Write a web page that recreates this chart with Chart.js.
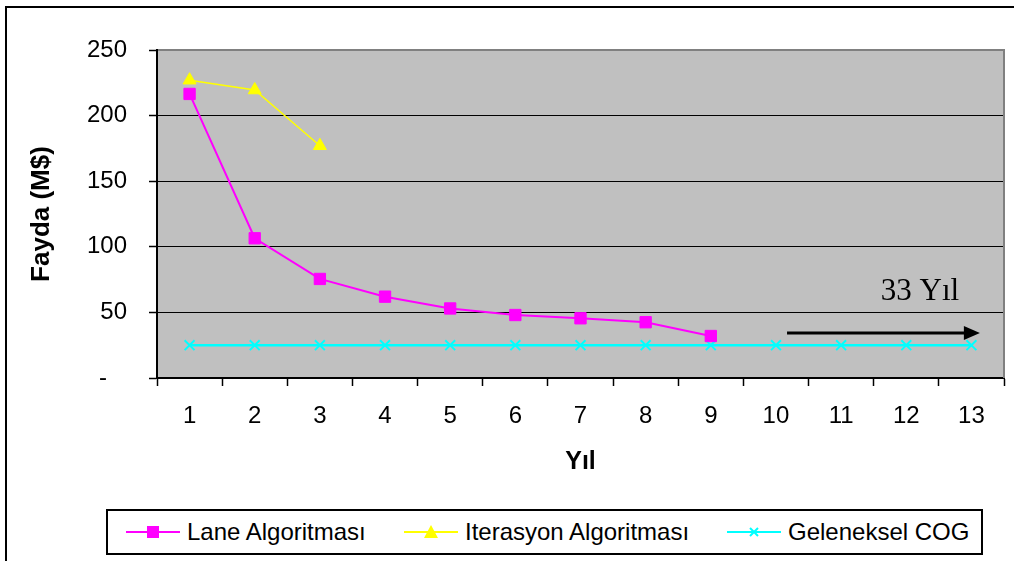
<!DOCTYPE html>
<html>
<head>
<meta charset="utf-8">
<script src="https://cdn.jsdelivr.net/npm/chart.js@4.4.1/dist/chart.umd.min.js"></script>
<style>
  html, body { margin: 0; padding: 0; background: #fff; }
  #wrap { position: relative; width: 1014px; height: 561px; overflow: hidden; background: #fff; }
  #frame { position: absolute; left: 5px; top: 6px; width: 1100px; height: 700px;
           border-left: 2px solid #000; border-top: 2px solid #000; box-sizing: border-box; pointer-events: none; }
  #c { position: absolute; left: 0; top: 0; }
  #legend { position: absolute; left: 106px; top: 509px; width: 877px; height: 46px;
            border: 2px solid #000; box-sizing: border-box; background: #fff; }
  .item { position: absolute; top: 0; height: 42px; display: flex; align-items: center;
          font-family: "Liberation Sans", Arial, sans-serif; font-size: 24px; color: #000; white-space: nowrap; }
  .item svg { margin-right: 7px; }
</style>
</head>
<body>
<div id="wrap">
  <canvas id="c" width="1014" height="561"></canvas>
  <div id="frame"></div>
  <div id="legend"></div>
</div>
<script>
// ---- data ----
const categories = ['1','2','3','4','5','6','7','8','9','10','11','12','13'];
const seriesNames = ['Lane Algoritması', 'Iterasyon Algoritması', 'Geleneksel COG'];
const laneValues = [216.5, 106.5, 75.5, 62, 53, 48, 45.5, 42.5, 32, null, null, null, null];
const iterValues = [227, 219.5, 177, null, null, null, null, null, null, null, null, null, null];
const cogValues  = [25, 25, 25, 25, 25, 25, 25, 25, 25, 25, 25, 25, 25];
const yTicks = [0, 50, 100, 150, 200, 250];
const annotationText = '33 Yıl';

// ---- styling ----
const colors = ['#FF00FF', '#FFFF00', '#00FFFF'];
const pointStyles = ['rect', 'triangle', 'crossRot'];

// annotation placement in data units (category index, value)
const arrowFrom = { x: 9.17, y: 34.3 };
const arrowTo   = { x: 12.13, y: 34.3 };
const textAt    = { x: 11.21, y: 59.5 };

const plotDeco = {
  id: 'plotDeco',
  beforeDraw(chart) {
    const { ctx, chartArea: a } = chart;
    ctx.save();
    ctx.fillStyle = '#C0C0C0';
    ctx.fillRect(a.left, a.top, a.right - a.left, a.bottom - a.top);
    ctx.restore();
  },
  beforeDatasetsDraw(chart) {
    const { ctx, chartArea: a } = chart;
    ctx.save();
    ctx.strokeStyle = '#808080';
    ctx.lineWidth = 2;
    ctx.beginPath();
    ctx.moveTo(a.left + 1, a.top);
    ctx.lineTo(a.right, a.top);
    ctx.lineTo(a.right, a.bottom);
    ctx.stroke();
    ctx.restore();
  },
  afterDatasetsDraw(chart) {
    const { ctx } = chart;
    const xs = chart.scales.x, ys = chart.scales.y;
    const x1 = xs.getPixelForValue(arrowFrom.x), y1 = ys.getPixelForValue(arrowFrom.y);
    const x2 = xs.getPixelForValue(arrowTo.x), y2 = ys.getPixelForValue(arrowTo.y);
    ctx.save();
    ctx.strokeStyle = '#000';
    ctx.fillStyle = '#000';
    ctx.lineWidth = 3;
    ctx.beginPath();
    ctx.moveTo(x1, y1);
    ctx.lineTo(x2 - 14, y2);
    ctx.stroke();
    ctx.beginPath();
    ctx.moveTo(x2, y2);
    ctx.lineTo(x2 - 16, y2 - 7);
    ctx.lineTo(x2 - 16, y2 + 7);
    ctx.closePath();
    ctx.fill();
    ctx.font = '31px "Liberation Serif", "Times New Roman", serif';
    ctx.textAlign = 'center';
    ctx.textBaseline = 'alphabetic';
    ctx.fillText(annotationText, xs.getPixelForValue(textAt.x), ys.getPixelForValue(textAt.y));
    ctx.restore();
  }
};

const values = [laneValues, iterValues, cogValues];
const lineWidths = [2, 1.5, 2.5];
const radii = [8, 7.5, 7];

const chart = new Chart(document.getElementById('c'), {
  type: 'line',
  data: {
    labels: categories,
    datasets: values.map((v, i) => ({
      label: seriesNames[i],
      data: v,
      borderColor: colors[i],
      backgroundColor: colors[i],
      pointBackgroundColor: colors[i],
      pointBorderColor: colors[i],
      pointBorderWidth: i === 2 ? 2 : 1,
      borderWidth: lineWidths[i],
      pointStyle: pointStyles[i],
      pointRadius: radii[i],
      pointHoverRadius: radii[i],
      tension: 0,
      spanGaps: false,
      order: i === 2 ? 3 : (i === 1 ? 2 : 1)
    }))
  },
  options: {
    responsive: false,
    animation: false,
    events: [],
    layout: { padding: { top: 50, right: 10, left: 0, bottom: 81 } },
    plugins: { legend: { display: false }, tooltip: { enabled: false } },
    scales: {
      x: {
        offset: true,
        afterFit(s) { s.height = 102; },
        grid: { display: true, drawOnChartArea: false, drawTicks: true, offset: true,
                tickLength: 8, tickColor: '#000', tickWidth: 1.5, color: '#000' },
        border: { display: true, color: '#000', width: 2 },
        ticks: { color: '#000', padding: 16, maxRotation: 0, autoSkip: false,
                 font: { family: '"Liberation Sans", Arial, sans-serif', size: 24 } },
        title: { display: true, text: 'Yıl', color: '#000', padding: { top: 0, bottom: 2.5 },
                 font: { family: '"Liberation Sans", Arial, sans-serif', size: 25, weight: 'bold' } }
      },
      y: {
        min: 0, max: 250,
        afterFit(s) { s.width = 157; },
        afterBuildTicks(s) { s.ticks = yTicks.map(v => ({ value: v })); },
        grid: { color: '#000', lineWidth: 1, tickLength: 8, tickColor: '#000', tickWidth: 1.5 },
        border: { display: true, color: '#000', width: 2 },
        ticks: { color: '#000', padding: 22,
                 font: { family: '"Liberation Sans", Arial, sans-serif', size: 24 },
                 callback: (v) => v === 0 ? '-   ' : String(v) },
        title: { display: true, text: 'Fayda (M$)', color: '#000', padding: { top: 26, bottom: 0 },
                 font: { family: '"Liberation Sans", Arial, sans-serif', size: 26, weight: 'bold' } }
      }
    }
  },
  plugins: [plotDeco]
});

// ---- HTML legend built from the series ----
const legendLeft = [126, 404, 727];
const legendEl = document.getElementById('legend');
function markerSvg(i) {
  const c = colors[i];
  let m = '';
  if (pointStyles[i] === 'rect') m = `<rect x="21" y="4" width="12" height="12" fill="${c}"/>`;
  else if (pointStyles[i] === 'triangle') m = `<polygon points="27,3 34,16 20,16" fill="${c}"/>`;
  else m = `<path d="M23,6 L31,14 M31,6 L23,14" stroke="${c}" stroke-width="2"/>`;
  return `<svg width="54" height="20" viewBox="0 0 54 20"><line x1="0" y1="10" x2="54" y2="10" stroke="${c}" stroke-width="2"/>${m}</svg>`;
}
seriesNames.forEach((name, i) => {
  const d = document.createElement('div');
  d.className = 'item';
  d.style.left = (legendLeft[i] - 108) + 'px';
  d.innerHTML = markerSvg(i) + '<span></span>';
  d.querySelector('span').textContent = name;
  legendEl.appendChild(d);
});
</script>
</body>
</html>
